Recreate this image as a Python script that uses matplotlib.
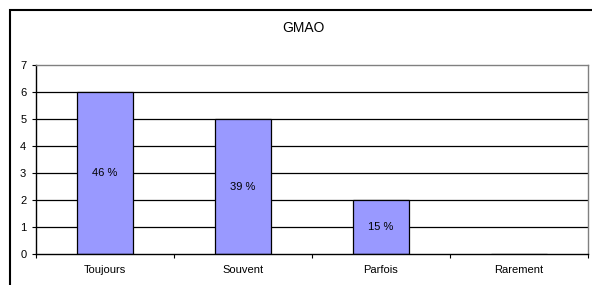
import matplotlib
matplotlib.use("Agg")
import matplotlib.pyplot as plt
from matplotlib.patches import Rectangle

# Data
categories = ["Toujours", "Souvent", "Parfois", "Rarement"]
counts = [6, 5, 2, 0]
pct_labels = ["46 %", "39 %", "15 %", ""]

plt.rcParams["font.family"] = ["Liberation Sans", "DejaVu Sans"]

W, H = 592, 285
fig = plt.figure(figsize=(W / 100, H / 100), dpi=100, facecolor="white")

# outer chart frame (runs off right/bottom edges)
fig.patches.append(Rectangle((10 / W, -0.2), 1.0, 1.2 - 10 / H,
                             transform=fig.transFigure, fill=False,
                             edgecolor="black", linewidth=1.5))

ax = fig.add_axes([36 / W, 1 - 254 / H, (588 - 36) / W, (254 - 65) / H])
ax.set_facecolor("white")

x = list(range(len(categories)))
ax.set_xlim(-0.5, len(categories) - 0.5)
ax.set_ylim(0, 7)

for yv in range(1, 7):
    ax.axhline(yv, color="black", linewidth=0.9, zorder=1)

bars = ax.bar(x, counts, width=0.4, color="#9999ff", edgecolor="black",
              linewidth=0.9, zorder=2)

for xi, c, lab in zip(x, counts, pct_labels):
    if lab:
        ax.text(xi, c / 2, lab, ha="center", va="center", fontsize=8, zorder=3)

ax.set_yticks(range(0, 8))
ax.tick_params(axis="y", direction="out", length=3, width=0.8, labelsize=8, pad=4)

ax.set_xticks(x)
ax.set_xticklabels(categories)
ax.set_xticks([i - 0.5 for i in range(len(categories) + 1)], minor=True)
ax.tick_params(axis="x", which="major", length=0, labelsize=8, pad=8)
ax.tick_params(axis="x", which="minor", direction="out", length=3, width=0.8)

for side in ["left", "bottom"]:
    ax.spines[side].set_color("black")
    ax.spines[side].set_linewidth(1.0)
for side in ["top", "right"]:
    ax.spines[side].set_color("#808080")
    ax.spines[side].set_linewidth(1.0)

fig.text(303 / W, 1 - 28 / H, "GMAO", ha="center", va="center", fontsize=10)

fig.savefig("out.png", dpi=100)
